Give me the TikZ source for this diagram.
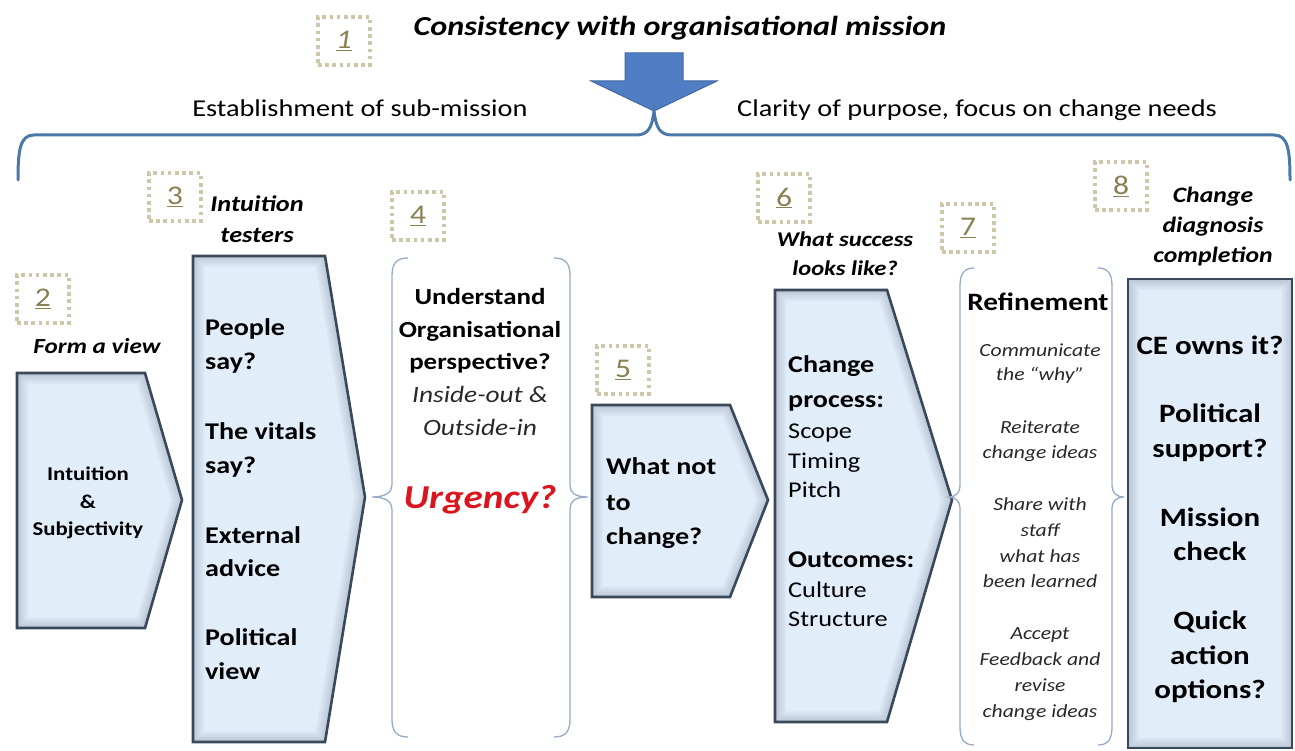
\documentclass[tikz,border=0pt]{standalone}
\usepackage{fontspec}
\setmainfont{Carlito}[FakeStretch=1.17]
\definecolor{boxfill}{RGB}{226,237,250}
\definecolor{boxline}{RGB}{58,72,92}
\definecolor{bracecol}{RGB}{74,120,168}
\definecolor{arrowfill}{RGB}{79,126,196}
\definecolor{arrowline}{RGB}{65,104,160}
\definecolor{numdot}{RGB}{206,199,170}
\definecolor{numtext}{RGB}{138,128,82}
\definecolor{thinbrace}{RGB}{150,172,198}
\definecolor{softtext}{RGB}{40,40,40}
\definecolor{urgent}{RGB}{220,20,30}
\newcommand\fs[1]{\fontsize{#1}{#1}\selectfont}
% filled step shape with a soft inner shadow and a dark outline
\newcommand\stepshape[1]{%
  \fill[boxfill] #1;
  \begin{scope}
    \clip #1;
    \foreach \w in {22,19,...,4} \draw[line width=\w pt, draw=boxline, opacity=0.03] #1;
  \end{scope}
  \draw[stepbox] #1;}
\begin{document}
\begin{tikzpicture}[x=1pt,y=-1pt,
  stepbox/.style={draw=boxline, line width=2.6pt, line join=miter},
  numbox/.style={draw=numdot, line width=3.6pt, dash pattern=on 3.6pt off 3.6pt,
    minimum width=52pt, minimum height=48pt, inner sep=0pt, text=numtext, font=\fs{27}},
  thinbr/.style={draw=thinbrace, line width=1.3pt},
  lbl/.style={inner sep=0pt, anchor=base},
  lblw/.style={inner sep=0pt, anchor=base west},
  bi/.style={font=\fs{#1}\bfseries\itshape},
  bd/.style={font=\fs{#1}\bfseries},
  rg/.style={font=\fs{#1}},
  it/.style={font=\fs{#1}\itshape, text=softtext},
]
\useasboundingbox (0,0) rectangle (1295,751);

% --- mission header ---
\node[lbl, bi=27.5] (mission) at (680,36) {Consistency with organisational mission};
\node[numbox] (n1) at (344,41) {\itshape\underline{1}};
\draw[fill=arrowfill, draw=arrowline, line width=1pt, line join=miter]
  (625,53) -- (683,53) -- (683,81) -- (717,81) -- (654,111) -- (591,81) -- (625,81) -- cycle;
\coordinate (tip) at (654,111);
\draw[bracecol, line width=3pt, line cap=round]
  (18,180) .. controls (18,150) and (20,135) .. (34,135) -- (636,135)
  .. controls (648,135) and (652,128) .. (tip)
  .. controls (656,128) and (660,135) .. (672,135) -- (1274,135)
  .. controls (1288,135) and (1290,150) .. (1290,180);
\node[lbl, rg=24.2] (submission) at (360,117) {Establishment of sub-mission};
\node[lbl, rg=24.2] (clarity) at (977,117) {Clarity of purpose, focus on change needs};

% --- 2: form a view ---
\node[numbox] (n2) at (43,299) {\underline{2}};
\node[lbl, bi=21.5] (formview) at (97,353) {Form a view};
\stepshape{(17,373) -- (145,373) -- (182,500) -- (145,628) -- (17,628) -- cycle}
\node[lbl, bd=19.5] (i1) at (88,480) {Intuition};
\node[lbl, bd=19.5] (i2) at (88,508) {\&};
\node[lbl, bd=19.5] (i3) at (88,535) {Subjectivity};

% --- 3: intuition testers ---
\node[numbox] (n3) at (175,197) {\underline{3}};
\node[lbl, bi=22.5] (t1) at (257,212) {Intuition};
\node[lbl, bi=22.5] (t2) at (257,243) {testers};
\stepshape{(193,256) -- (325,256) -- (365,497) -- (325,742) -- (193,742) -- cycle}
\foreach \txt/\yy [count=\k] in {People/335, say?/369, The vitals/439, say?/473,
    External/543, advice/576, Political/645, view/679}
  \node[lblw, bd=24] (p\k) at (205,\yy) {\txt};

% --- 4: organisational perspective ---
\node[numbox] (n4) at (418,216) {\underline{4}};
\draw[thinbr] (408,258) .. controls (396,258) and (392,264) .. (392,276) -- (392,485)
  .. controls (392,492) and (386,497) .. (372,497)
  .. controls (386,497) and (392,502) .. (392,509) -- (392,719)
  .. controls (392,731) and (396,737) .. (408,737);
\draw[thinbr] (554,258) .. controls (566,258) and (570,264) .. (570,276) -- (570,485)
  .. controls (570,492) and (574,497) .. (588,497)
  .. controls (574,497) and (570,502) .. (570,509) -- (570,719)
  .. controls (570,731) and (566,737) .. (554,737);
\node[lbl, bd=23] (o1) at (480,305) {Understand};
\node[lbl, bd=23] (o2) at (480,337) {Organisational};
\node[lbl, bd=23] (o3) at (480,369) {perspective?};
\node[lbl, it=23.4] (o4) at (480,402) {Inside-out \&};
\node[lbl, it=23.4] (o5) at (480,435) {Outside-in};
\node[lbl, bi=33.5, text=urgent] (urgency) at (480,508) {Urgency?};

% --- 5: what not to change ---
\node[numbox] (n5) at (623,370) {\underline{5}};
\stepshape{(592,405) -- (730,405) -- (768,500) -- (730,597) -- (592,597) -- cycle}
\node[lblw, bd=24] (w1) at (606,474) {What not};
\node[lblw, bd=24] (w2) at (606,510) {to};
\node[lblw, bd=24] (w3) at (606,544) {change?};

% --- 6: what success looks like ---
\node[numbox] (n6) at (784,198) {\underline{6}};
\node[lbl, bi=21] (s1) at (845,247) {What success};
\node[lbl, bi=21] (s2) at (845,276) {looks like?};
\stepshape{(775,290) -- (887,290) -- (952,500) -- (887,722) -- (775,722) -- cycle}
\node[lblw, bd=24] (c1) at (788,372) {Change};
\node[lblw, bd=24] (c2) at (788,407) {process:};
\node[lblw, rg=22.5] (c3) at (788,438) {Scope};
\node[lblw, rg=22.5] (c4) at (788,468) {Timing};
\node[lblw, rg=22.5] (c5) at (788,497) {Pitch};
\node[lblw, bd=24] (c6) at (788,567) {Outcomes:};
\node[lblw, rg=22.5] (c7) at (788,597) {Culture};
\node[lblw, rg=22.5] (c8) at (788,626) {Structure};

% --- 7: refinement ---
\node[numbox] (n7) at (968,228) {\underline{7}};
\draw[thinbr] (974,268) .. controls (964,268) and (960,274) .. (960,286) -- (960,486)
  .. controls (960,492) and (956,497) .. (949,497)
  .. controls (956,497) and (960,502) .. (960,508) -- (960,727)
  .. controls (960,739) and (964,745) .. (974,745);
\draw[thinbr] (1098,268) .. controls (1108,268) and (1112,274) .. (1112,286) -- (1112,486)
  .. controls (1112,492) and (1116,497) .. (1124,497)
  .. controls (1116,497) and (1112,502) .. (1112,508) -- (1112,727)
  .. controls (1112,739) and (1108,745) .. (1098,745);
\node[lbl, bd=25] (refine) at (1038,310) {Refinement};
\foreach \txt/\yy [count=\k] in {Communicate/356, the \textquotedblleft why\textquotedblright/380,
    Reiterate/433, change ideas/458, Share with/510, staff/536, what has/562,
    been learned/587, Accept/639, Feedback and/665, revise/691, change ideas/717}
  \node[lbl, it=18.5] (r\k) at (1040,\yy) {\txt};

% --- 8: change diagnosis completion ---
\node[numbox] (n8) at (1121,186) {\underline{8}};
\node[lbl, bi=22] (d1) at (1213,203) {Change};
\node[lbl, bi=22] (d2) at (1213,233) {diagnosis};
\node[lbl, bi=22] (d3) at (1213,263) {completion};
\stepshape{(1128,279) rectangle (1292,748)}
\foreach \txt/\yy [count=\k] in {CE owns it?/354, Political/422, support?/457,
    Mission/526, check/560, Quick/629, action/664, options?/698}
  \node[lbl, bd=26.5] (q\k) at (1210,\yy) {\txt};
\end{tikzpicture}
\end{document}
